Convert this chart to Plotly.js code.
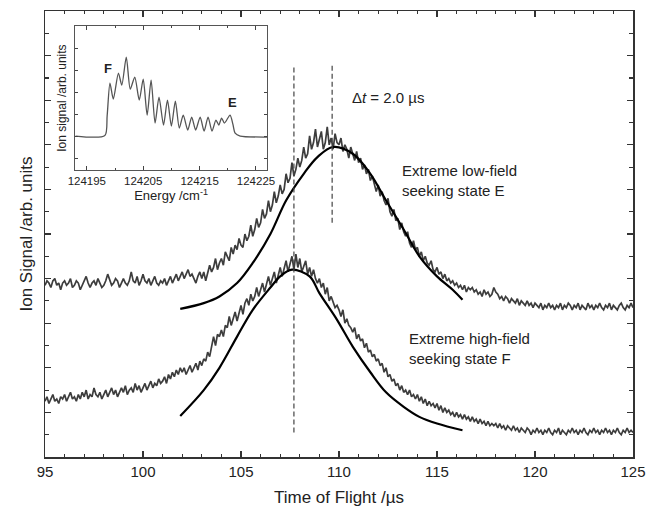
<!DOCTYPE html>
<html>
<head>
<meta charset="utf-8">
<script src="https://cdn.plot.ly/plotly-3.0.1.min.js"></script>
<style>html,body{margin:0;padding:0;background:#fff;}#chart{width:657px;height:516px;}</style>
</head>
<body>
<div id="chart"></div>
<script>
// Time-of-flight traces, sampled every 0.1 µs from 95 µs to 125 µs
const tofStart = 95;
const tofStep = 0.1;

// Extreme low-field seeking state E (measured, upper trace)
const signalE = [
7.7,7.9,7.8,7.6,7.9,8.0,7.7,7.8,7.5,7.8,
7.9,7.7,7.8,8.0,7.6,7.7,7.9,7.8,7.5,7.7,
7.9,8.1,7.8,7.6,7.8,7.9,7.7,8.0,7.8,7.6,
7.7,7.9,8.2,7.9,7.7,7.8,8.0,7.9,7.6,7.8,
8.0,7.8,7.7,7.9,8.3,7.9,7.8,8.1,7.7,7.9,
8.2,7.9,7.8,8.0,7.7,7.9,8.1,7.8,7.7,7.9,
7.8,8.0,7.7,7.9,8.1,7.8,8.0,8.2,7.9,8.1,
8.3,8.0,8.2,8.4,8.1,8.2,8.0,7.8,8.1,8.3,
8.0,8.3,7.9,8.2,8.6,8.3,8.5,8.9,8.4,8.7,
8.9,8.6,9.2,9.0,8.8,9.4,9.1,9.5,9.3,9.8,
9.5,9.4,10.0,9.7,9.9,10.4,9.9,10.2,10.7,10.3,
10.5,11.1,10.7,10.9,11.5,11.0,11.3,11.9,11.4,11.7,
12.2,11.8,12.0,12.7,12.3,12.5,13.2,12.6,12.9,13.4,
13.0,13.3,13.9,13.4,13.6,14.4,13.8,14.1,14.7,13.9,
14.2,14.6,13.8,14.1,14.8,14.0,14.3,13.8,14.5,14.1,
14.0,14.3,13.7,14.0,13.8,13.4,13.9,13.6,13.3,13.7,
13.2,13.4,12.9,13.1,12.7,12.9,12.4,12.6,12.3,11.9,
12.2,11.7,11.9,11.5,11.3,11.6,11.0,10.8,11.1,10.6,
10.7,10.2,10.5,10.1,9.9,10.1,9.6,9.4,9.7,9.3,
9.4,9.0,9.2,8.8,9.0,8.7,8.6,8.8,8.4,8.3,
8.5,8.2,8.3,8.0,8.2,7.9,8.0,7.8,7.9,7.7,
7.8,7.6,7.7,7.5,7.7,7.4,7.6,7.5,7.6,7.4,
7.5,7.3,7.4,7.2,7.5,7.3,7.4,7.2,7.3,7.6,
7.4,7.3,7.1,7.2,7.0,7.2,7.1,6.9,7.1,7.0,
6.9,7.1,6.8,7.0,6.9,6.8,7.0,6.8,6.9,6.7,
6.9,6.8,6.7,6.9,6.6,6.8,6.7,6.9,6.7,6.8,
6.6,6.8,6.7,6.9,6.6,6.8,6.7,6.9,6.8,6.6,
6.8,6.7,6.9,6.6,6.8,6.7,6.6,6.9,6.7,6.8,
6.6,6.8,6.7,6.9,6.7,6.6,6.8,6.7,6.9,6.6,
6.8,6.7,6.6,6.8,6.9,6.7,6.6,6.8,6.7,6.9,
6.7];

// Extreme high-field seeking state F (measured, lower trace)
const signalF = [
2.5,2.7,2.4,2.6,2.8,2.5,2.6,2.4,2.7,2.6,
2.8,2.5,2.7,2.9,2.6,2.7,2.5,2.8,2.6,2.9,
2.7,3.0,2.6,2.8,2.7,3.1,2.8,2.7,2.9,2.6,
2.8,3.0,2.7,2.9,3.1,2.8,3.0,2.7,2.9,3.1,
2.9,3.2,2.8,3.0,3.1,2.9,3.3,3.0,3.2,2.9,
3.1,3.3,3.0,3.2,3.4,3.1,3.3,3.2,3.5,3.3,
3.4,3.6,3.3,3.7,3.5,3.8,3.6,3.9,3.7,4.0,
3.8,4.0,3.7,3.9,4.1,3.8,4.0,4.2,3.9,4.3,
4.1,4.4,4.3,4.7,4.5,4.9,5.4,5.0,5.5,5.4,
5.7,5.4,5.9,5.8,6.3,5.9,6.2,6.5,6.1,6.4,
6.8,6.4,6.9,7.1,6.8,7.3,7.0,7.2,7.6,7.2,
7.5,7.8,7.4,7.7,8.1,7.7,8.0,8.3,7.8,8.2,
8.5,8.1,8.4,8.8,8.3,8.6,9.0,8.4,9.1,8.5,
8.9,8.3,8.6,8.8,8.2,8.5,8.1,8.4,8.0,7.8,
8.0,7.6,7.8,7.3,7.6,7.0,7.2,6.9,6.7,6.8,
6.6,6.3,6.6,6.0,6.2,5.9,5.8,5.6,5.8,5.3,
5.5,5.2,5.3,4.9,5.1,4.7,4.8,4.5,4.6,4.3,
4.4,4.1,4.2,3.8,4.0,3.6,3.7,3.4,3.5,3.2,
3.3,3.0,3.2,2.9,3.0,2.8,3.0,2.7,2.8,2.6,
2.8,2.5,2.7,2.4,2.6,2.3,2.5,2.3,2.4,2.2,
2.4,2.1,2.3,2.0,2.2,2.0,2.1,1.9,2.0,1.8,
2.0,1.8,1.9,1.7,1.9,1.7,1.8,1.6,1.8,1.6,
1.7,1.5,1.7,1.5,1.6,1.4,1.6,1.4,1.5,1.4,
1.5,1.3,1.5,1.3,1.4,1.2,1.4,1.3,1.2,1.4,
1.2,1.3,1.1,1.3,1.2,1.1,1.3,1.2,1.0,1.2,
1.1,1.3,1.1,1.2,1.0,1.2,1.1,1.3,1.1,1.0,
1.2,1.1,1.3,1.0,1.2,1.1,1.0,1.2,1.1,1.3,
1.1,1.2,1.0,1.2,1.1,1.3,1.1,1.0,1.2,1.1,
1.3,1.1,1.2,1.0,1.2,1.1,1.3,1.1,1.2,1.0,
1.2,1.1,1.3,1.1,1.0,1.2,1.1,1.3,1.1,1.2,
1.1];

// Simulated (fit) curves
const fitTimeE = [101.9,103.1,103.9,104.8,105.6,106.5,107.3,108.2,108.9,109.7,110.7,111.6,112.4,113.3,114.1,115.0,115.8,116.3];
const fitSignalE = [6.64,6.9,7.2,7.8,8.7,10.0,11.5,12.7,13.45,13.9,13.6,12.7,11.5,10.2,9.0,8.1,7.5,7.05];
const fitTimeF = [101.9,103.1,103.9,104.8,105.6,106.5,107.0,107.6,108.5,109.0,109.9,110.7,111.6,112.4,113.3,114.1,115.0,116.3];
const fitSignalF = [1.84,3.0,4.0,5.4,6.6,7.6,8.1,8.4,8.1,7.35,6.15,4.95,3.8,2.9,2.25,1.8,1.5,1.2];

// Peak arrival times (dashed markers)
const peakTimes = [107.7, 109.65];
const peakLineLow = [1.1, 10.5];
const peakLineHigh = [17.6, 17.6];

// Inset spectrum
const energy = [124193,124198.2,124198.6,124199.1,124199.7,124200.6,124201.2,124202.0,124202.7,124203.5,124204.3,124205.0,124205.7,124206.4,124207.1,124207.8,124208.6,124209.3,124210.0,124210.7,124211.4,124212.1,124212.9,124213.6,124214.3,124215.1,124215.8,124216.5,124217.2,124217.9,124218.4,124218.9,124219.4,124220.4,124220.9,124221.3,124222.2,124227];
const spectrum = [0,0.5,20,53,37,63,51,79,47,59,36,57,21,56,13,39,11,36,10,35,8,21,6,19,6,19,5,19,5,16,11,18,13,21,12,3,0,-1];
const energyTicks = [124195,124205,124215,124225];

const font = "Liberation Sans, Arial, Helvetica, sans-serif";
const noisyColor = '#3d3d3d';

const traces = [
  {x0: tofStart, dx: tofStep, y: signalE, type: 'scatter', mode: 'lines',
   line: {color: noisyColor, width: 1.7}, xaxis: 'x', yaxis: 'y', hoverinfo: 'skip'},
  {x0: tofStart, dx: tofStep, y: signalF, type: 'scatter', mode: 'lines',
   line: {color: noisyColor, width: 1.7}, xaxis: 'x', yaxis: 'y', hoverinfo: 'skip'},
  {x: fitTimeE, y: fitSignalE, type: 'scatter', mode: 'lines',
   line: {color: '#000', width: 2.2, shape: 'spline', smoothing: 1}, xaxis: 'x', yaxis: 'y'},
  {x: fitTimeF, y: fitSignalF, type: 'scatter', mode: 'lines',
   line: {color: '#000', width: 2.2, shape: 'spline', smoothing: 1}, xaxis: 'x', yaxis: 'y'},
  {x: energy, y: spectrum, type: 'scatter', mode: 'lines',
   line: {color: '#555', width: 1.3, shape: 'spline', smoothing: 0.7}, xaxis: 'x2', yaxis: 'y2'}
];

const shapes = peakTimes.map((t, i) => ({
  type: 'line', xref: 'x', yref: 'y', x0: t, x1: t, y0: peakLineLow[i], y1: peakLineHigh[i],
  line: {color: '#444', width: 1.2, dash: '5px,3px'}
}));

const layout = {
  width: 657, height: 516,
  margin: {l: 45, r: 24, t: 11, b: 59},
  paper_bgcolor: '#fff', plot_bgcolor: '#fff',
  showlegend: false,
  font: {family: font, color: '#222'},
  xaxis: {
    domain: [0, 1], range: [95, 125], tickmode: 'linear', tick0: 95, dtick: 5,
    ticks: 'inside', ticklen: 6, tickwidth: 1.2, tickcolor: '#333',
    minor: {dtick: 1, ticks: 'inside', ticklen: 3, tickcolor: '#333'},
    showline: true, linecolor: '#333', linewidth: 1.5, mirror: 'ticks',
    showgrid: false, zeroline: false,
    tickfont: {family: font, size: 15, color: '#222'},
    title: {text: 'Time of Flight /µs', font: {family: font, size: 17, color: '#222'}, standoff: 12}
  },
  yaxis: {
    domain: [0, 1], range: [0, 20], tickmode: 'linear', tick0: 0, dtick: 2,
    ticks: 'inside', ticklen: 6, tickwidth: 1.2, tickcolor: '#333',
    minor: {dtick: 1, ticks: 'inside', ticklen: 4, tickcolor: '#333'},
    showline: true, linecolor: '#333', linewidth: 1.5, mirror: 'ticks',
    showgrid: false, zeroline: false, showticklabels: false,
    title: {text: 'Ion Signal /arb. units', font: {family: font, size: 17, color: '#222'}, standoff: 6}
  },
  xaxis2: {
    domain: [0.051, 0.378], anchor: 'y2', range: [124192.9, 124227.0],
    tickmode: 'array', tickvals: energyTicks, tickformat: 'd',
    ticks: 'inside', ticklen: 4, tickcolor: '#444',
    minor: {dtick: 5, ticks: 'inside', ticklen: 2, tickcolor: '#444'},
    showline: true, linecolor: '#555', linewidth: 1, mirror: 'ticks',
    showgrid: false, zeroline: false,
    tickfont: {family: font, size: 11.5, color: '#222'},
    title: {text: 'Energy /cm<sup>-1</sup>', font: {family: font, size: 13, color: '#222'}, standoff: 2}
  },
  yaxis2: {
    domain: [0.6435, 0.966], anchor: 'x2', range: [-34, 110],
    tickmode: 'linear', tick0: -22, dtick: 22,
    ticks: 'inside', ticklen: 3, tickcolor: '#444',
    showline: true, linecolor: '#555', linewidth: 1, mirror: 'ticks',
    showgrid: false, zeroline: false, showticklabels: false,
    title: {text: 'Ion signal /arb. units', font: {family: font, size: 12, color: '#222'}, standoff: 4}
  },
  shapes: shapes,
  annotations: [
    {xref: 'x', yref: 'y', x: 110.56, y: 16.1, xanchor: 'left', yanchor: 'middle', showarrow: false,
     text: 'Δ<i>t</i> = 2.0 µs', font: {family: font, size: 15, color: '#222'}},
    {xref: 'x', yref: 'y', x: 113.1, y: 12.4, xanchor: 'left', yanchor: 'middle', align: 'left', showarrow: false,
     text: 'Extreme low-field<br>seeking state E', font: {family: font, size: 15, color: '#222'}},
    {xref: 'x', yref: 'y', x: 113.45, y: 4.85, xanchor: 'left', yanchor: 'middle', align: 'left', showarrow: false,
     text: 'Extreme high-field<br>seeking state F', font: {family: font, size: 15, color: '#222'}},
    {xref: 'x2', yref: 'y2', x: 124198.7, y: 68, showarrow: false,
     text: '<b>F</b>', font: {family: font, size: 13, color: '#222'}},
    {xref: 'x2', yref: 'y2', x: 124220.8, y: 34, showarrow: false,
     text: '<b>E</b>', font: {family: font, size: 13, color: '#222'}}
  ]
};

Plotly.newPlot('chart', traces, layout, {displayModeBar: false, staticPlot: true});
</script>
</body>
</html>
